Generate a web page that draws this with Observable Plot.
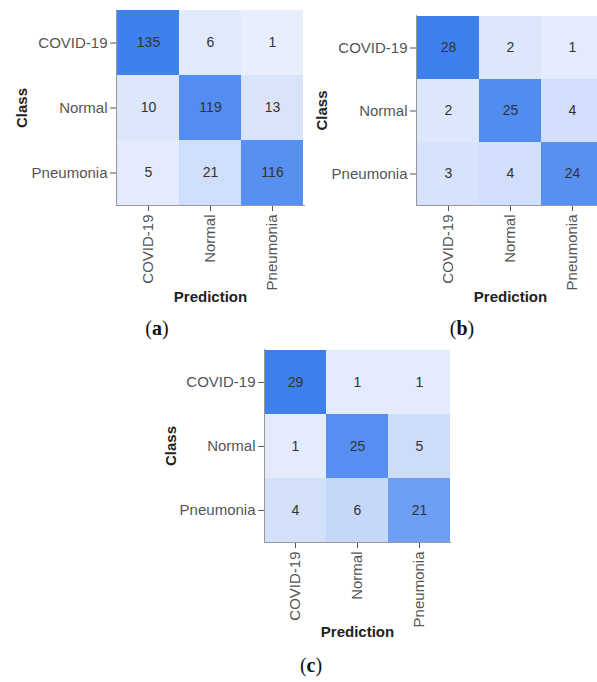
<!DOCTYPE html>
<html>
<head>
<meta charset="utf-8">
<script src="https://cdn.jsdelivr.net/npm/d3@7"></script>
<script src="https://cdn.jsdelivr.net/npm/@observablehq/plot@0.6"></script>
<style>
  html, body { margin: 0; padding: 0; background: #fff; }
  body { width: 597px; height: 682px; position: relative; overflow: hidden; }
  .panel { position: absolute; }
  .panel svg { overflow: visible; max-width: none !important; display: block; }
  .panel [aria-label="x-axis label"] text,
  .panel [aria-label="y-axis label"] text { font-weight: bold; fill: #222; }
  .cap { position: absolute; font-family: "Liberation Serif", "DejaVu Serif", serif; font-size: 20px; color: #111; transform: translateX(-50%); line-height: 1; }
  .cap b { font-weight: bold; }
</style>
</head>
<body>
<div id="pa" class="panel" style="left:0px;top:0px;width:310px"></div>
<div id="pb" class="panel" style="left:300px;top:0px;width:310px"></div>
<div id="pc" class="panel" style="left:150px;top:339px;width:306px"></div>
<div class="cap" style="left:157px;top:318px">(<b>a</b>)</div>
<div class="cap" style="left:462px;top:318px">(<b>b</b>)</div>
<div class="cap" style="left:311px;top:655px">(<b>c</b>)</div>
<script>
const classes = ["COVID-19", "Normal", "Pneumonia"];
const matrixA = [[135, 6, 1], [10, 119, 13], [5, 21, 116]];
const matrixB = [[28, 2, 1], [2, 25, 4], [3, 4, 24]];
const matrixC = [[29, 1, 1], [1, 25, 5], [4, 6, 21]];

function toRows(m) {
  const rows = [];
  m.forEach((r, i) => r.forEach((v, j) => rows.push({cls: classes[i], pred: classes[j], value: v})));
  return rows;
}

function panel(m, opts) {
  const data = toRows(m);
  const max = d3.max(data, d => d.value);
  return Plot.plot({
    width: opts.width,
    height: opts.height,
    marginLeft: opts.ml,
    marginRight: opts.mr,
    marginTop: opts.mt,
    marginBottom: opts.mb,
    style: {fontFamily: "'Liberation Sans', Arial, sans-serif", fontSize: "15px", color: "#555", background: "transparent"},
    x: {domain: classes, padding: 0, label: "Prediction", tickRotate: -90, tickSize: 6, tickPadding: 3, labelOffset: opts.xlo, labelAnchor: "center"},
    y: {domain: classes, padding: 0, label: "Class", tickSize: 6, tickPadding: 3, labelOffset: opts.ylo, labelAnchor: "center"},
    color: {type: "linear", domain: [0, max], range: ["#e9effc", "#3f80ef"], interpolate: "rgb"},
    marks: [
      Plot.cell(data, {x: "pred", y: "cls", fill: "value", inset: 0}),
      Plot.text(data, {x: "pred", y: "cls", text: d => String(d.value), fill: "#333", fontSize: 14}),
      Plot.frame({anchor: "left", stroke: "#999"}),
      Plot.frame({anchor: "bottom", stroke: "#999"})
    ]
  });
}

document.getElementById("pa").append(panel(matrixA, {width: 310, height: 310, ml: 116, mr: 6, mt: 10, mb: 105, xlo: 96, ylo: 100}));
document.getElementById("pb").append(panel(matrixB, {width: 310, height: 310, ml: 116, mr: 6, mt: 15, mb: 105, xlo: 96, ylo: 100}));
document.getElementById("pc").append(panel(matrixC, {width: 306, height: 308, ml: 114, mr: 6, mt: 10, mb: 105, xlo: 94, ylo: 99}));
</script>
</body>
</html>
